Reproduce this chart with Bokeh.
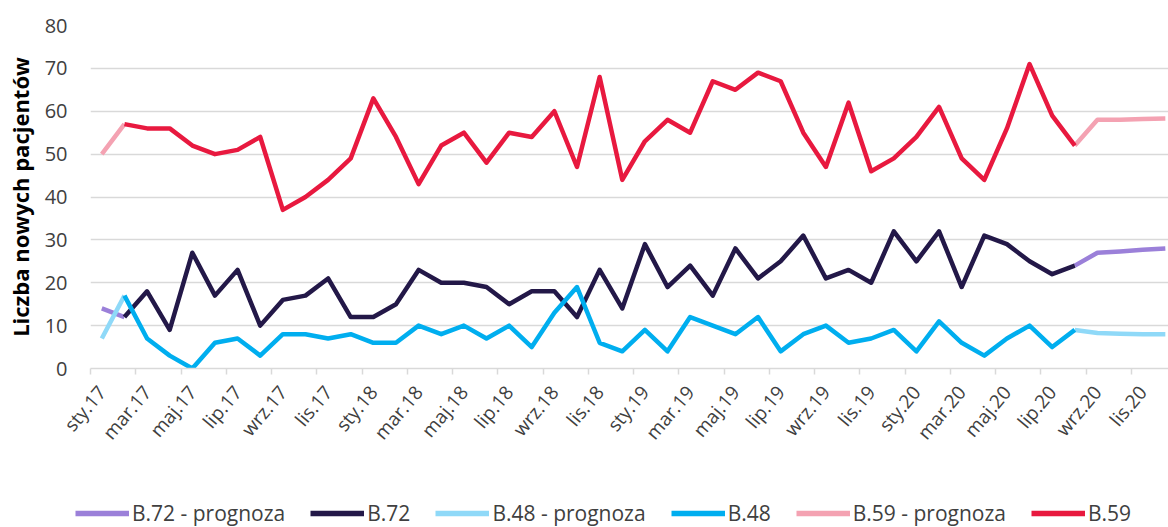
import math
from bokeh.plotting import figure
from bokeh.layouts import column
from bokeh.models import Range1d, FixedTicker, Legend, LegendItem, ColumnDataSource
from bokeh.embed import file_html
from bokeh.resources import INLINE

nan = float("nan")

months_pl = ["sty", "lut", "mar", "kwi", "maj", "cze", "lip", "sie", "wrz", "paź", "lis", "gru"]
years = ["17", "18", "19", "20"]
month_labels = [f"{m}.{y}" for y in years for m in months_pl]
x = list(range(len(month_labels)))

b59 = [nan, 57, 56, 56, 52, 50, 51, 54, 37, 40, 44, 49, 63, 54, 43, 52, 55, 48, 55, 54,
       60, 47, 68, 44, 53, 58, 55, 67, 65, 69, 67, 55, 47, 62, 46, 49, 54, 61, 49, 44,
       56, 71, 59, 52, nan, nan, nan, nan]
b59_prog = [50, 57] + [nan] * 41 + [52, 58, 58, 58.2, 58.3]

b72 = [nan, 12, 18, 9, 27, 17, 23, 10, 16, 17, 21, 12, 12, 15, 23, 20, 20, 19, 15, 18,
       18, 12, 23, 14, 29, 19, 24, 17, 28, 21, 25, 31, 21, 23, 20, 32, 25, 32, 19, 31,
       29, 25, 22, 24, nan, nan, nan, nan]
b72_prog = [14, 12] + [nan] * 41 + [24, 27, 27.3, 27.7, 28]

b48 = [nan, 17, 7, 3, 0, 6, 7, 3, 8, 8, 7, 8, 6, 6, 10, 8, 10, 7, 10, 5,
       13, 19, 6, 4, 9, 4, 12, 10, 8, 12, 4, 8, 10, 6, 7, 9, 4, 11, 6, 3,
       7, 10, 5, 9, nan, nan, nan, nan]
b48_prog = [7, 17] + [nan] * 41 + [9, 8.3, 8.1, 8, 8]

series = [
    ("B.72 - prognoza", b72_prog, "#9B80D9"),
    ("B.72", b72, "#231848"),
    ("B.48 - prognoza", b48_prog, "#8FD9F8"),
    ("B.48", b48, "#00AEEF"),
    ("B.59 - prognoza", b59_prog, "#F4A2B2"),
    ("B.59", b59, "#E8193F"),
]

FONT = "Open Sans"
TXT = "#404040"
LW = 4.5

p = figure(width=1168, height=470, output_backend="svg", toolbar_location=None,
           x_range=Range1d(-0.5, 47.14), y_range=Range1d(0, 80),
           min_border_left=90, min_border_right=0, min_border_top=25, min_border_bottom=102)
p.outline_line_color = None
p.background_fill_color = "white"
p.border_fill_color = "white"

for name, vals, color in series:
    src = ColumnDataSource(dict(x=x, y=vals))
    p.line("x", "y", source=src, line_color=color, line_width=LW, line_join="round")

# x axis
xa = p.xaxis[0]
xa.ticker = FixedTicker(ticks=x[::2], minor_ticks=[v - 0.5 for v in x[::2]])
xa.major_label_overrides = {i: month_labels[i] for i in x[::2]}
xa.major_label_orientation = 0.87
xa.major_tick_line_color = None
xa.minor_tick_line_color = "#D9D9D9"
xa.minor_tick_line_width = 1.5
xa.minor_tick_out = 6
xa.minor_tick_in = 0
xa.axis_line_color = "#D9D9D9"
xa.axis_line_width = 1.5
xa.major_label_text_font = FONT
xa.major_label_text_font_size = "19px"
xa.major_label_text_color = TXT
xa.major_label_standoff = 14

# y axis
ya = p.yaxis[0]
ya.ticker = FixedTicker(ticks=list(range(0, 81, 10)))
ya.axis_line_color = None
ya.major_tick_line_color = None
ya.minor_tick_line_color = None
ya.major_label_text_font = FONT
ya.major_label_text_font_size = "20px"
ya.major_label_text_color = TXT
ya.major_label_standoff = 17
ya.axis_label = "Liczba nowych pacjentów"
ya.axis_label_text_font = FONT
ya.axis_label_text_font_size = "22px"
ya.axis_label_text_font_style = "bold"
ya.axis_label_text_color = "#000000"
ya.axis_label_standoff = 7

p.xgrid.grid_line_color = None
p.ygrid.grid_line_color = "#D9D9D9"
p.ygrid.grid_line_width = 1.5
p.ygrid.ticker = FixedTicker(ticks=list(range(0, 81, 10)))

# legend strip below the chart
lg = figure(width=1168, height=57, output_backend="svg", toolbar_location=None,
            x_range=Range1d(0, 1), y_range=Range1d(0, 1),
            min_border_left=0, min_border_right=0, min_border_top=0, min_border_bottom=0)
lg.axis.visible = False
lg.grid.visible = False
lg.outline_line_color = None
lg.background_fill_color = "white"
lg.border_fill_color = "white"
for fig in (p, lg):
    try:
        fig.frame_align = False
    except Exception:
        pass

items = []
for name, vals, color in series:
    r = lg.line([nan], [nan], line_color=color, line_width=LW + 1)
    items.append(LegendItem(label=name, renderers=[r]))

legend = Legend(items=items, orientation="horizontal", location=(75, 0),
                glyph_width=54, glyph_height=20, label_standoff=3, spacing=25,
                padding=0, margin=0, border_line_color=None, background_fill_alpha=0,
                label_text_font=FONT, label_text_font_size="21px", label_text_color=TXT)
lg.add_layout(legend, "center")

layout = column(p, lg, spacing=0)
open("out.html", "w").write(file_html(layout, INLINE))
